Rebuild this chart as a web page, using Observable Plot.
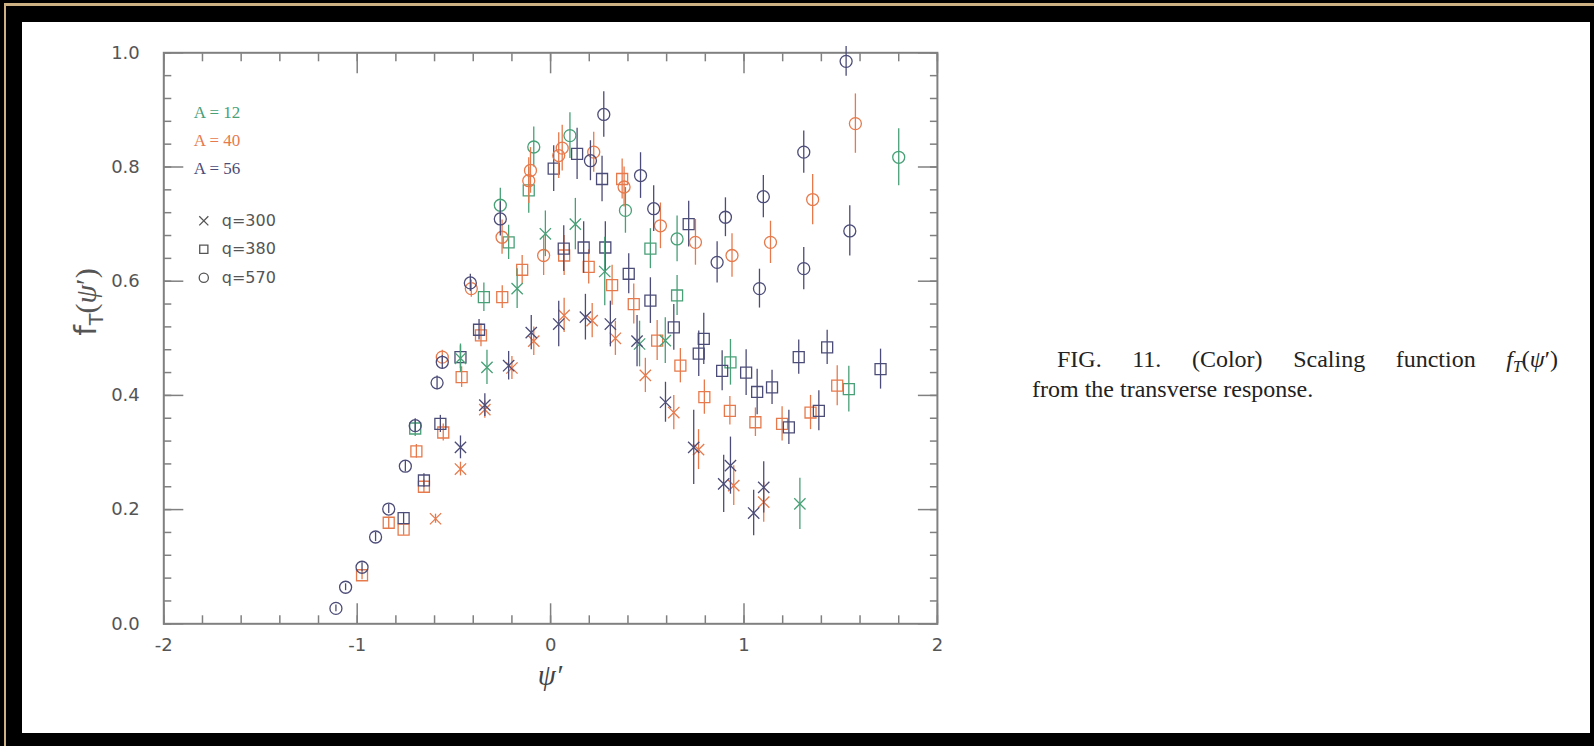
<!DOCTYPE html>
<html><head><meta charset="utf-8">
<script src="https://cdn.jsdelivr.net/npm/d3@7"></script>
<script src="https://cdn.jsdelivr.net/npm/@observablehq/plot@0.6"></script>
<style>
html,body{margin:0;padding:0;background:#000;width:1594px;height:746px;overflow:hidden;}
#gold{position:absolute;left:4px;top:3px;width:1590px;height:743px;border-top:3px solid #cdb182;border-left:2px solid #cdb182;box-sizing:border-box;}
#panel{position:absolute;left:22px;top:22px;width:1568px;height:711px;background:#fff;}
#chart{position:absolute;left:0;top:0;}
.cap{position:absolute;font-family:"Liberation Serif",serif;font-size:24px;line-height:30px;height:30px;color:#222;white-space:nowrap;}
#cap1{left:1035px;top:322px;width:501px;text-align:justify;text-align-last:justify;white-space:normal;}
#cap2{left:1010px;top:352px;}
.cap sub{font-size:16px;line-height:0;vertical-align:-5px;}
</style></head>
<body>
<div id="gold"></div>
<div id="panel"><div id="chart"></div>
<div class="cap" id="cap1">FIG. 11. (Color) Scaling function <i>f</i><sub><i>T</i></sub>(<i>ψ</i>′)</div>
<div class="cap" id="cap2">from the transverse response.</div>
</div>
<script>
// ---- data: [psi', f_T, error] ----
const A12_q300 = [[-0.466,0.465,0.025],[-0.329,0.449,0.03],[-0.173,0.587,0.035],[-0.027,0.683,0.04],[0.128,0.700,0.045],[0.28,0.617,0.06],[0.46,0.49,0.04],[0.593,0.496,0.04],[1.289,0.21,0.045]];
const A40_q300 = [[-0.595,0.184,0.008],[-0.466,0.271,0.012],[-0.34,0.375,0.015],[-0.20,0.448,0.02],[-0.087,0.495,0.025],[0.07,0.540,0.03],[0.215,0.531,0.03],[0.335,0.500,0.03],[0.49,0.435,0.03],[0.637,0.370,0.03],[0.765,0.305,0.035],[0.947,0.242,0.035],[1.102,0.213,0.035]];
const A56_q300 = [[-0.466,0.309,0.02],[-0.34,0.383,0.02],[-0.217,0.452,0.025],[-0.10,0.510,0.03],[0.042,0.525,0.04],[0.18,0.537,0.04],[0.309,0.525,0.04],[0.447,0.495,0.045],[0.594,0.388,0.035],[0.74,0.309,0.065],[0.895,0.245,0.05],[0.93,0.277,0.05],[1.05,0.194,0.04],[1.102,0.239,0.045]];
const A12_q380 = [[-0.70,0.342,0.014],[-0.345,0.572,0.025],[-0.217,0.668,0.03],[-0.113,0.759,0.04],[0.516,0.657,0.035],[0.654,0.575,0.035],[0.93,0.458,0.04],[1.542,0.411,0.04]];
const A40_q380 = [[-0.975,0.085,0.008],[-0.837,0.177,0.01],[-0.76,0.165,0.01],[-0.694,0.302,0.012],[-0.655,0.24,0.012],[-0.555,0.335,0.015],[-0.46,0.432,0.018],[-0.36,0.505,0.02],[-0.25,0.572,0.02],[-0.147,0.62,0.025],[0.07,0.645,0.035],[0.197,0.625,0.03],[0.318,0.593,0.035],[0.37,0.779,0.035],[0.43,0.56,0.035],[0.551,0.496,0.035],[0.671,0.452,0.03],[0.795,0.397,0.03],[0.927,0.373,0.025],[1.059,0.353,0.025],[1.197,0.35,0.03],[1.344,0.37,0.03],[1.482,0.417,0.035]];
const A56_q380 = [[-0.76,0.185,0.01],[-0.655,0.251,0.012],[-0.57,0.35,0.015],[-0.466,0.467,0.02],[-0.37,0.515,0.018],[0.016,0.797,0.04],[0.068,0.657,0.04],[0.137,0.823,0.045],[0.171,0.659,0.045],[0.266,0.779,0.04],[0.283,0.659,0.045],[0.404,0.613,0.035],[0.516,0.566,0.04],[0.637,0.519,0.04],[0.714,0.70,0.04],[0.766,0.473,0.04],[0.792,0.499,0.045],[0.887,0.443,0.035],[1.011,0.44,0.04],[1.068,0.406,0.04],[1.145,0.414,0.03],[1.232,0.344,0.03],[1.283,0.467,0.03],[1.387,0.373,0.035],[1.43,0.484,0.03],[1.706,0.446,0.035]];
const A12_q570 = [[-0.26,0.733,0.03],[-0.087,0.835,0.035],[0.10,0.855,0.04],[0.387,0.724,0.04],[0.654,0.674,0.04],[1.80,0.817,0.05]];
const A40_q570 = [[-0.56,0.467,0.012],[-0.41,0.587,0.015],[-0.251,0.677,0.03],[-0.113,0.776,0.04],[-0.104,0.794,0.04],[-0.036,0.645,0.035],[0.042,0.820,0.04],[0.06,0.833,0.04],[0.223,0.826,0.035],[0.38,0.765,0.035],[0.568,0.697,0.04],[0.749,0.668,0.04],[0.938,0.645,0.038],[1.137,0.668,0.037],[1.355,0.743,0.044],[1.576,0.876,0.052]];
const A56_q570 = [[-1.11,0.027,0.006],[-1.06,0.064,0.006],[-0.975,0.099,0.008],[-0.905,0.152,0.008],[-0.837,0.201,0.008],[-0.751,0.276,0.01],[-0.70,0.347,0.012],[-0.587,0.422,0.012],[-0.56,0.458,0.012],[-0.415,0.597,0.015],[-0.26,0.709,0.03],[0.206,0.811,0.035],[0.275,0.892,0.04],[0.465,0.785,0.04],[0.533,0.727,0.04],[0.861,0.633,0.036],[0.904,0.712,0.034],[1.08,0.587,0.034],[1.10,0.748,0.037],[1.309,0.826,0.037],[1.309,0.622,0.037],[1.528,0.985,0.026],[1.547,0.688,0.044]];

const xMajor = [-2, -1, 0, 1, 2];
const yMajor = [0, 0.2, 0.4, 0.6, 0.8, 1.0];
const legendA = ["A = 12", "A = 40", "A = 56"];
const legendQ = ["q=300", "q=380", "q=570"];

// ---- styling ----
const cA = {12: "#48a077", 40: "#e67a4c", 56: "#4c4c78"};
const sym = {300: "times", 380: "square", 570: "circle"};
const rad = {300: 5.2, 380: 6.2, 570: 6};
const series = [
  [A12_q380, 12, 380], [A40_q380, 40, 380], [A56_q380, 56, 380],
  [A12_q570, 12, 570], [A40_q570, 40, 570], [A56_q570, 56, 570],
  [A12_q300, 12, 300], [A40_q300, 40, 300], [A56_q300, 56, 300]
];
const xMinor = d3.range(-2, 2.0001, 0.2);
const yMinor = d3.range(0, 1.0001, 0.04);
const axC = "#808080";
const tickAxis = (fn, anchor, ticks, size) => fn({anchor, ticks, tickSize: -size, tickFormat: () => "", label: null, stroke: axC, strokeWidth: 1.5});

const marks = [
  Plot.frame({stroke: axC, strokeWidth: 2}),
  tickAxis(Plot.axisX, "bottom", xMinor, 8), tickAxis(Plot.axisX, "top", xMinor, 8),
  tickAxis(Plot.axisX, "bottom", xMajor, 20), tickAxis(Plot.axisX, "top", xMajor, 20),
  tickAxis(Plot.axisY, "left", yMinor, 8), tickAxis(Plot.axisY, "right", yMinor, 8),
  tickAxis(Plot.axisY, "left", yMajor, 20), tickAxis(Plot.axisY, "right", yMajor, 20),
  Plot.axisX({anchor: "bottom", ticks: xMajor, tickSize: 0, tickPadding: 14, label: null, fill: "#555", fontSize: 18,
    tickFormat: d => d < 0 ? "-" + (-d) : String(d)}),
  Plot.axisY({anchor: "left", ticks: yMajor, tickSize: 0, tickPadding: 24, label: null, fill: "#555", fontSize: 18,
    tickFormat: d3.format(".1f")}),
];
for (const [data, A, q] of series) {
  marks.push(Plot.ruleX(data, {x: d => d[0], y1: d => d[1] - d[2], y2: d => d[1] + d[2], stroke: cA[A], strokeWidth: 1.3}));
  marks.push(Plot.dot(data, {x: d => d[0], y: d => d[1], symbol: sym[q], r: rad[q], stroke: cA[A], strokeWidth: 1.3, fill: "none"}));
}
// legend
legendA.forEach((t, i) => marks.push(Plot.text([t], {text: d => d, frameAnchor: "top-left", dx: 30, dy: 60 + i * 28,
  textAnchor: "start", lineAnchor: "middle", fill: cA[[12, 40, 56][i]], fontSize: 17, fontFamily: "Liberation Serif"})));
legendQ.forEach((t, i) => {
  const q = [300, 380, 570][i];
  marks.push(Plot.dot([t], {frameAnchor: "top-left", dx: 40, dy: 168 + i * 28.5, symbol: sym[q], r: q === 300 ? 4.2 : 4.6, stroke: "#555", strokeWidth: 1.3, fill: "none"}));
  marks.push(Plot.text([t], {text: d => d, frameAnchor: "top-left", dx: 58, dy: 168 + i * 28.5,
    textAnchor: "start", lineAnchor: "middle", fill: "#555", fontSize: 16}));
});

const chart = Plot.plot({
  width: 1000, height: 690,
  marginLeft: 141.3, marginRight: 85.1, marginTop: 30.3, marginBottom: 88.7,
  x: {domain: [-2, 2]},
  y: {domain: [0, 1]},
  style: {background: "transparent", fontFamily: "DejaVu Sans", fontSize: "18px", color: "#555", overflow: "visible"},
  marks
});
const svg = d3.select(chart);
const yt = svg.append("text").attr("transform", "translate(63,280) rotate(-90)").attr("text-anchor", "middle")
  .attr("dy", "0.35em").attr("font-family", "DejaVu Sans").attr("font-size", 30).attr("fill", "#555");
yt.append("tspan").text("f");
yt.append("tspan").attr("dy", 7).attr("font-size", 19).text("T");
yt.append("tspan").attr("dy", -7).attr("font-family", "Liberation Serif").text("(");
yt.append("tspan").attr("font-family", "Liberation Serif").attr("font-style", "italic").text("ψ");
yt.append("tspan").attr("font-family", "Liberation Serif").text("′)");
svg.append("text").attr("x", 528).attr("y", 663).attr("text-anchor", "middle").attr("font-family", "Liberation Serif")
  .attr("font-style", "italic").attr("font-size", 29).attr("fill", "#444").text("ψ′");
document.getElementById("chart").appendChild(chart);
</script>
</body></html>
